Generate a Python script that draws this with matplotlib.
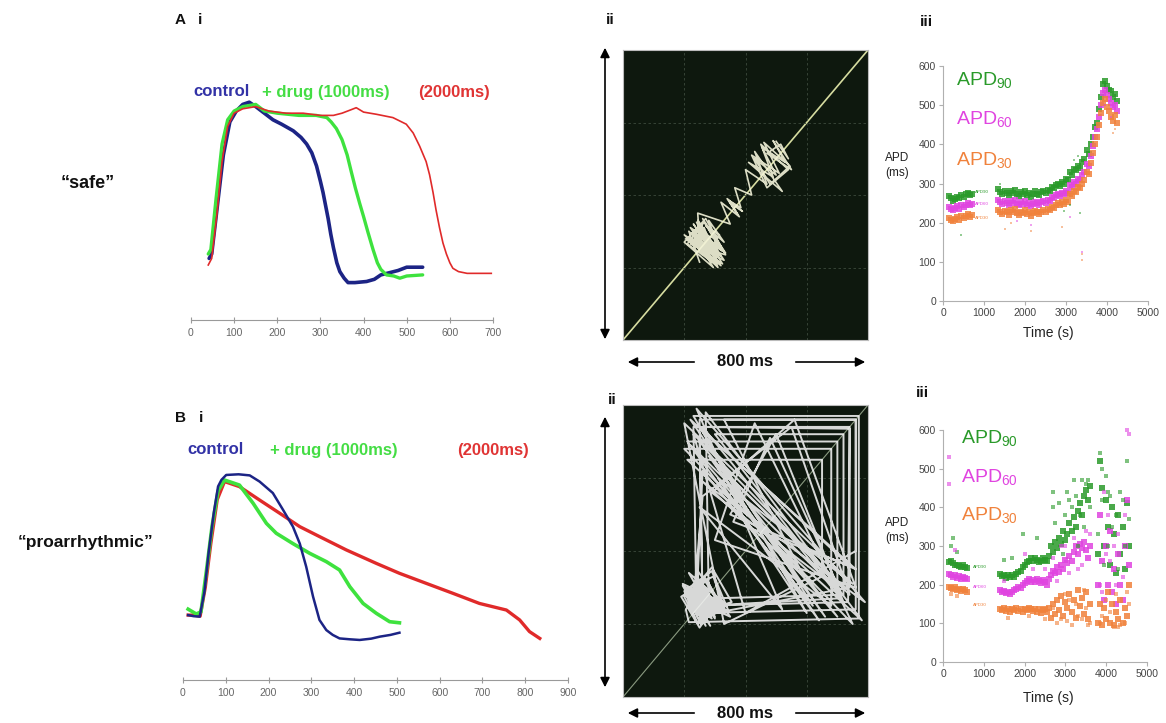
import matplotlib
matplotlib.use('Agg')
import matplotlib.pyplot as plt

plt.rcParams['font.family'] = ['Liberation Sans', 'DejaVu Sans']
plt.rcParams['mathtext.default'] = 'regular'

# ---------------- data ----------------
# A i : action potentials ("safe")
A_ctrl_t = [42, 48, 60, 75, 90, 105, 120, 135, 150, 170, 190, 210, 237, 255, 268, 280, 291, 300, 306, 312, 318, 324, 330, 338, 345, 355, 364, 380, 407, 425, 440, 460, 480, 500, 537]
A_ctrl_v = [28, 30, 50, 75, 90, 95, 98, 99, 97, 94, 91, 89, 86, 83, 80, 76, 70, 63, 58, 52, 46, 39, 33, 26, 22, 19, 17, 17, 17.5, 18.5, 20.5, 21.5, 22.5, 24, 24]
A_drug_t = [40, 46, 58, 72, 85, 100, 120, 150, 170, 200, 250, 290, 315, 325, 337, 350, 362, 372, 381, 391, 400, 410, 422, 432, 440, 453, 470, 484, 500, 537]
A_drug_v = [30, 32, 55, 80, 91, 95, 97, 98, 95, 94, 93, 93, 92, 90, 87, 82, 75, 67, 60, 53, 47, 40, 32, 26, 23, 20.5, 20, 19, 20, 20.5]
A_2000_t = [40, 48, 60, 72, 85, 100, 120, 150, 180, 220, 260, 300, 330, 350, 370, 383, 400, 430, 468, 499, 515, 530, 545, 553, 561, 568, 576, 584, 592, 600, 607, 620, 640, 696]
A_2000_v = [25, 28, 48, 72, 88, 94, 96, 97, 95, 94, 94, 93, 93, 94, 95.5, 96.5, 94.5, 93.5, 92, 89, 85, 79, 72, 66, 58, 50, 42, 35, 30, 26, 23.5, 22, 21.2, 21.2]
A_ticks = [0, 100, 200, 300, 400, 500, 600, 700]

# B i : action potentials ("proarrhythmic")
B_ctrl_t = [12, 25, 39, 50, 60, 72, 82, 90, 101, 130, 156, 179, 210, 234, 257, 273, 288, 304, 319, 335, 350, 366, 390, 413, 440, 460, 485, 506]
B_ctrl_v = [29.5, 29, 28.8, 40, 58, 76, 88, 91, 93.2, 93.5, 93, 90.2, 85, 77.3, 69.7, 62, 51.5, 37.9, 27.3, 22.7, 20.5, 18.9, 18.5, 18.2, 18.8, 19.7, 20.5, 21.5]
B_drug_t = [12, 31, 42, 55, 68, 82, 97, 132, 164, 195, 218, 257, 296, 335, 366, 390, 421, 452, 483, 506]
B_drug_v = [32.2, 30, 31, 50, 70, 86, 90.9, 88.6, 80.3, 71.2, 66.7, 62, 57.6, 53.8, 50, 42.4, 34.8, 30.3, 26.5, 26]
B_2000_t = [12, 25, 40, 52, 65, 80, 97, 132, 179, 226, 273, 319, 382, 452, 506, 569, 631, 693, 756, 787, 810, 834]
B_2000_v = [29.5, 29.5, 29, 42, 62, 82, 90.2, 87.9, 81.8, 75.8, 69.7, 65.2, 59.1, 53, 48.5, 43.9, 39.4, 34.8, 31.8, 27.3, 22, 18.9]
B_ticks = [0, 100, 200, 300, 400, 500, 600, 700, 800, 900]

# A ii / B ii : beat-to-beat APD sequences (ms) for Poincare plots
apd_seq_A = [250, 215, 300, 230, 320, 205, 280, 245, 330, 220, 265, 310, 200, 290, 240, 325, 210, 275, 255, 315,
             225, 295, 200, 270, 335, 235, 260, 305, 215, 285, 250, 320, 230, 300, 210, 265, 325, 245, 290, 220,
             310, 260, 335, 240, 300, 280, 330, 270, 315, 290, 255, 270, 240, 262, 248, 258, 236, 266, 252, 244,
             350, 320, 380, 340, 390, 355, 375, 345, 385, 365,
             420, 400, 470, 430, 520, 410, 490, 450, 540, 470, 420, 510, 460, 545, 480, 430, 500, 455, 530, 490,
             550, 470, 515, 540, 500, 548]
apd_seq_B = [230, 260, 210, 290, 245, 200, 275, 320, 235, 255, 300, 215, 340, 250, 225, 285, 195, 310, 265, 240,
             350, 220, 270, 205, 295, 330, 245, 215, 280, 260,
             250, 760, 760, 240, 230, 740, 735, 260, 250, 700, 220, 690, 300, 720, 720, 280, 270, 780, 210, 650,
             650, 330, 200, 750, 310, 600, 230, 770, 770, 215, 205,
             240, 280, 230, 310, 255, 200, 290, 345, 235, 265, 215, 300, 250, 190, 275, 320, 240, 260,
             620, 250, 740, 360, 480, 710, 290, 560, 760, 300, 430, 750, 200, 680, 680, 250, 520, 240, 790, 260,
             590, 330, 760, 760, 400, 230, 720, 300, 640, 210, 700, 700, 270, 250,
             300, 220, 265, 330, 240, 205, 285, 250, 315, 230, 270, 195, 305, 245, 225, 290, 355, 260, 235, 275,
             210, 300, 250, 320, 230, 260,
             550, 740, 280, 660, 220, 760, 350, 500, 720, 260, 740, 740, 300, 230,
             270, 240, 290, 215, 260, 300, 235, 250]

# A iii : APD vs time
time_A = [150, 200, 250, 300, 350, 400, 450, 500, 550, 600, 650, 700,
          1350, 1400, 1450, 1500, 1550, 1600, 1650, 1700, 1750, 1800, 1850, 1900, 1950, 2000, 2050, 2100, 2150, 2200,
          2250, 2300, 2350, 2400, 2450, 2500, 2550, 2600, 2650, 2700, 2750, 2800, 2850, 2900, 2950, 3000, 3050, 3100,
          3150, 3200, 3250, 3300, 3350, 3400, 3450, 3500, 3550, 3600, 3650, 3700, 3750, 3800, 3850, 3900, 3950, 4000,
          4050, 4100, 4150, 4200, 4250]
apd90_A = [268, 262, 256, 260, 265, 262, 270, 266, 272, 276, 270, 274,
           285, 278, 272, 280, 275, 270, 282, 276, 284, 272, 268, 278, 274, 280, 270, 276, 266, 272,
           280, 274, 270, 278, 282, 276, 284, 280, 292, 288, 296, 300, 294, 305, 298, 312, 308, 330,
           322, 338, 335, 345, 340, 355, 362, 385, 375, 400, 420, 445, 455, 490, 520, 555, 562, 548,
           540, 535, 522, 528, 510]
apd60_A = [240, 236, 232, 238, 242, 236, 244, 240, 246, 250, 244, 248,
           258, 252, 248, 255, 250, 246, 256, 250, 258, 248, 244, 252, 248, 255, 246, 250, 242, 248,
           254, 250, 246, 252, 256, 250, 258, 255, 265, 262, 270, 274, 268, 276, 272, 280, 276, 295,
           290, 305, 300, 312, 310, 322, 330, 350, 345, 370, 395, 420, 440, 470, 500, 530, 540, 525,
           515, 505, 495, 500, 485]
apd30_A = [212, 208, 205, 210, 215, 208, 216, 212, 218, 222, 215, 220,
           232, 228, 222, 230, 226, 220, 232, 226, 234, 224, 220, 228, 224, 232, 222, 226, 218, 224,
           230, 226, 222, 228, 232, 226, 234, 232, 240, 238, 246, 250, 244, 252, 248, 258, 254, 272,
           268, 282, 278, 290, 288, 300, 310, 330, 325, 352, 378, 400, 420, 450, 480, 505, 515, 495,
           485, 470, 460, 475, 455]
out90_A_t = [450, 2950, 3100, 3350, 1400, 3300, 3200]
out90_A_v = [168, 230, 245, 225, 300, 370, 360]
out60_A_t = [2150, 3100, 3400, 1800, 3950, 4100]
out60_A_v = [195, 215, 125, 205, 500, 470]
out30_A_t = [1500, 1650, 2150, 2900, 3400, 3400, 4150, 4200]
out30_A_v = [185, 200, 180, 190, 120, 105, 430, 440]

# B iii : APD vs time
time_B = [150, 200, 250, 300, 350, 400, 450, 500, 550, 600,
          1400, 1450, 1500, 1550, 1600, 1650, 1700, 1750, 1800, 1850, 1900, 1950, 2000, 2050, 2100, 2150, 2200, 2250,
          2300, 2350, 2400, 2450, 2500, 2550, 2600, 2650, 2700, 2750, 2800, 2850, 2900, 2950, 3000, 3050, 3100, 3150,
          3200, 3250, 3300, 3350, 3400, 3450, 3500, 3550, 3600,
          3800, 3850, 3900, 3950, 4000, 4050, 4100, 4150, 4200, 4250, 4300, 4350, 4400, 4450, 4500, 4550]
apd90_B = [258, 262, 255, 250, 252, 248, 245, 250, 246, 242,
           228, 222, 225, 218, 224, 220, 226, 219, 228, 232, 236, 245, 250, 258, 262, 268, 260, 270,
           265, 258, 262, 270, 265, 260, 275, 300, 285, 310, 295, 320, 305, 340, 315, 330, 360, 340,
           375, 350, 390, 410, 380, 430, 445, 420, 455,
           280, 520, 450, 300, 420, 350, 250, 400, 330, 230, 380, 280, 350, 240, 410, 300]
apd60_B = [228, 224, 220, 225, 218, 222, 215, 220, 218, 214,
           185, 180, 184, 178, 182, 176, 180, 185, 190, 195, 192, 200, 205, 210, 214, 208, 212, 206,
           215, 210, 204, 212, 208, 200, 215, 225, 235, 230, 245, 232, 250, 240, 265, 255, 275, 260,
           285, 300, 280, 305, 295, 310, 290, 270, 300,
           200, 380, 260, 160, 300, 200, 340, 180, 240, 150, 280, 200, 160, 300, 420, 250]
apd30_B = [195, 192, 188, 194, 186, 190, 184, 188, 185, 180,
           138, 134, 140, 132, 136, 130, 138, 134, 140, 132, 136, 130, 138, 134, 140, 136, 132, 138,
           130, 136, 128, 134, 138, 130, 140, 115, 150, 125, 160, 135, 170, 120, 155, 140, 175, 130,
           160, 115, 185, 145, 165, 125, 180, 110, 150,
           100, 150, 95, 140, 110, 180, 100, 150, 95, 130, 110, 160, 100, 140, 120, 200]
out90_B_t = [200, 250, 350, 1500, 1950, 2700, 2700, 3050, 3100, 3200, 3400, 3500, 3850, 3900, 4050, 4100, 4500, 3300,
             3450, 4250, 4350, 3000, 2750, 2850, 2950, 3150, 3250, 3350, 3550, 3600, 3800, 3900, 3950, 4000, 4050,
             4150, 4300, 4400, 4450, 4550, 1700, 2300]
out90_B_v = [300, 320, 285, 265, 330, 440, 400, 440, 420, 470, 470, 460, 540, 500, 440, 430, 520, 300, 350, 380, 440,
             380, 360, 410, 280, 400, 430, 380, 470, 400, 330, 420, 250, 480, 300, 350, 240, 420, 300, 370, 270, 320]
out60_B_t = [150, 150, 300, 2000, 2200, 2900, 3100, 3300, 3600, 3950, 4000, 4200, 4400, 4550, 4500, 4450, 3850,
             2700, 2800, 3000, 3200, 3400, 3500, 3900, 4050, 4100, 4250, 4300, 1500, 2500]
out60_B_v = [530, 460, 290, 280, 240, 300, 230, 240, 330, 440, 280, 300, 220, 590, 600, 380, 200,
             270, 210, 300, 320, 250, 340, 180, 380, 260, 200, 330, 210, 240]
out30_B_t = [200, 350, 1600, 2100, 2500, 2800, 3050, 3150, 3400, 3550, 3850, 4200, 4300, 4450, 4550,
             2700, 2900, 3000, 3100, 3250, 3300, 3450, 3500, 3600, 3900, 4000, 4100, 4250, 4350, 4500]
out30_B_v = [175, 170, 115, 118, 112, 100, 105, 95, 110, 95, 100, 90, 90, 100, 150,
             140, 110, 175, 160, 150, 120, 185, 140, 100, 120, 160, 130, 175, 95, 180]

apd_ticks_x = [0, 1000, 2000, 3000, 4000, 5000]
apd_ticks_y = [0, 100, 200, 300, 400, 500, 600]

# ---------------- figure ----------------
W, H = 1166, 723
fig = plt.figure(figsize=(W / 100, H / 100), dpi=100)
fig.patch.set_facecolor('white')


def add_ax(l, t, r, b):
    return fig.add_axes([l / W, 1 - b / H, (r - l) / W, (b - t) / H])


def ftext(x, y, s, **kw):
    kw.setdefault('va', 'center')
    fig.text(x / W, 1 - y / H, s, **kw)


BLUE = '#1c2485'
GREEN = '#3ee23e'
RED = '#e02a2a'
G90 = '#2a9a2a'
M60 = '#e044e0'
O30 = '#f0823c'


def ap_panel(ax, xmax, ticks):
    ax.set_xlim(0, xmax)
    ax.set_ylim(0, 100)
    for s in ['left', 'top', 'right']:
        ax.spines[s].set_visible(False)
    ax.spines['bottom'].set_color('#9a9a9a')
    ax.set_yticks([])
    ax.set_xticks(ticks)
    ax.tick_params(axis='x', direction='inout', length=4, color='#9a9a9a',
                   labelcolor='#666666', labelsize=7.5, pad=4)
    ax.patch.set_alpha(0)


# A i
axAi = add_ax(191, 100, 493, 320)
ap_panel(axAi, 700, A_ticks)
axAi.plot(A_ctrl_t, A_ctrl_v, color=BLUE, lw=2.6, solid_capstyle='round')
axAi.plot(A_drug_t, A_drug_v, color=GREEN, lw=2.4, solid_capstyle='round')
axAi.plot(A_2000_t, A_2000_v, color=RED, lw=1.2)

# B i
axBi = add_ax(183, 460, 568, 680)
ap_panel(axBi, 900, B_ticks)
axBi.plot(B_2000_t, B_2000_v, color=RED, lw=2.4)
axBi.plot(B_drug_t, B_drug_v, color=GREEN, lw=2.6)
axBi.plot(B_ctrl_t, B_ctrl_v, color=BLUE, lw=1.8)


def poincare(ax, seq, color, lw, alpha):
    ax.set_facecolor('#0e180e')
    ax.set_xlim(0, 800)
    ax.set_ylim(0, 800)
    ax.set_xticks([])
    ax.set_yticks([])
    for s in ax.spines.values():
        s.set_color('#bbbbbb')
        s.set_linewidth(0.8)
    for g in [200, 400, 600]:
        ax.axvline(g, color='#3c4a3c', lw=0.6, ls=(0, (3, 3)))
        ax.axhline(g, color='#3c4a3c', lw=0.6, ls=(0, (3, 3)))
    ax.plot(seq[:-1], seq[1:], color=color, lw=lw, alpha=alpha)


axAii = add_ax(623, 50, 868, 340)
axAii.axline((0, 0), slope=1, color='#d6dca0', lw=1.2)
poincare(axAii, apd_seq_A, '#f4f4da', 1.2, 0.9)

axBii = add_ax(623, 405, 868, 697)
axBii.axline((0, 0), slope=1, color='#8a9a80', lw=0.8)
poincare(axBii, apd_seq_B, '#f4f4f4', 1.4, 0.88)


def arrow(x1, y1, x2, y2):
    fig.patches.append(matplotlib.patches.FancyArrowPatch(
        (x1 / W, 1 - y1 / H), (x2 / W, 1 - y2 / H), transform=fig.transFigure,
        arrowstyle='-|>', mutation_scale=14, color='black', lw=1.2))


for (top, bot, yh) in [(45, 342, 362), (414, 690, 713)]:
    fig.patches.append(matplotlib.patches.FancyArrowPatch(
        (605 / W, 1 - top / H), (605 / W, 1 - bot / H), transform=fig.transFigure,
        arrowstyle='<|-|>', mutation_scale=14, color='black', lw=1.2))
    arrow(697, yh, 625, yh)
    arrow(793, yh, 868, yh)
    ftext(745, yh, '800 ms', ha='center', fontsize=12, fontweight='bold', color='#111111')


def apd_panel(ax):
    ax.set_xlim(0, 5000)
    ax.set_ylim(0, 600)
    ax.set_xticks(apd_ticks_x)
    ax.set_yticks(apd_ticks_y)
    for s in ['top', 'right']:
        ax.spines[s].set_visible(False)
    for s in ['left', 'bottom']:
        ax.spines[s].set_color('#b0b0b0')
    ax.tick_params(direction='out', length=3, color='#b0b0b0', labelcolor='#444444', labelsize=7.5, pad=2)
    ax.patch.set_alpha(0)


def pts(ax, t, v, c, s=7, a=0.85):
    ax.scatter(t, v, s=s, color=c, marker='s', lw=0, alpha=a, clip_on=False)


# A iii
axAiii = add_ax(943, 66, 1148, 301)
apd_panel(axAiii)
pts(axAiii, time_A, apd90_A, G90, s=15)
pts(axAiii, time_A, apd60_A, M60, s=15)
pts(axAiii, time_A, apd30_A, O30, s=15)
pts(axAiii, out90_A_t, out90_A_v, G90, s=4, a=0.5)
pts(axAiii, out60_A_t, out60_A_v, M60, s=4, a=0.5)
pts(axAiii, out30_A_t, out30_A_v, O30, s=4, a=0.5)

# B iii
axBiii = add_ax(943, 430, 1147, 662)
apd_panel(axBiii)
pts(axBiii, time_B, apd90_B, G90, s=13)
pts(axBiii, time_B, apd60_B, M60, s=13)
pts(axBiii, time_B, apd30_B, O30, s=13)
pts(axBiii, out90_B_t, out90_B_v, G90, s=5, a=0.6)
pts(axBiii, out60_B_t, out60_B_v, M60, s=5, a=0.6)
pts(axBiii, out30_B_t, out30_B_v, O30, s=5, a=0.6)

# APD labels
for (x, ys, tiny_x, tiny_ys) in [(956, (80, 119, 160), 975, (192, 204, 218)),
                                  (961, (438, 477, 515), 973, (567, 587, 605))]:
    ftext(x, ys[0], r'APD$_{90}$', fontsize=14, color=G90)
    ftext(x, ys[1], r'APD$_{60}$', fontsize=14, color=M60)
    ftext(x, ys[2], r'APD$_{30}$', fontsize=14, color=O30)
    ftext(tiny_x, tiny_ys[0], 'APD90', fontsize=3.2, color=G90)
    ftext(tiny_x, tiny_ys[1], 'APD60', fontsize=3.2, color=M60)
    ftext(tiny_x, tiny_ys[2], 'APD30', fontsize=3.2, color=O30)

for (y1, y2) in [(158, 173), (523, 538)]:
    ftext(897, y1, 'APD', ha='center', fontsize=8.5, color='#222222')
    ftext(897, y2, '(ms)', ha='center', fontsize=8.5, color='#222222')
ftext(1048, 333, 'Time (s)', ha='center', fontsize=10, color='#222222')
ftext(1048, 698, 'Time (s)', ha='center', fontsize=10, color='#222222')

# AP legends
ftext(193, 92, 'control', fontsize=12, fontweight='bold', color='#3232a6')
ftext(262, 92, '+ drug (1000ms)', fontsize=12, fontweight='bold', color='#44dd44')
ftext(418, 92, '(2000ms)', fontsize=12, fontweight='bold', color='#e03434')
ftext(187, 450, 'control', fontsize=12, fontweight='bold', color='#3232a6')
ftext(270, 450, '+ drug (1000ms)', fontsize=12, fontweight='bold', color='#44dd44')
ftext(457, 450, '(2000ms)', fontsize=12, fontweight='bold', color='#e03434')

# panel labels
ftext(175, 20, 'A', fontsize=11, fontweight='bold', color='#111111')
ftext(198, 20, 'i', fontsize=11, fontweight='bold', color='#111111')
ftext(175, 418, 'B', fontsize=11, fontweight='bold', color='#111111')
ftext(199, 418, 'i', fontsize=11, fontweight='bold', color='#111111')
ftext(610, 20, 'ii', ha='center', fontsize=11, fontweight='bold', color='#111111')
ftext(612, 400, 'ii', ha='center', fontsize=11, fontweight='bold', color='#111111')
ftext(926, 22, 'iii', ha='center', fontsize=11, fontweight='bold', color='#111111')
ftext(922, 393, 'iii', ha='center', fontsize=11, fontweight='bold', color='#111111')

ftext(88, 183, '\u201csafe\u201d', ha='center', fontsize=13, fontweight='bold', color='#111111')
ftext(86, 543, '\u201cproarrhythmic\u201d', ha='center', fontsize=12.5, fontweight='bold', color='#111111')

fig.savefig('out.png', dpi=100)
